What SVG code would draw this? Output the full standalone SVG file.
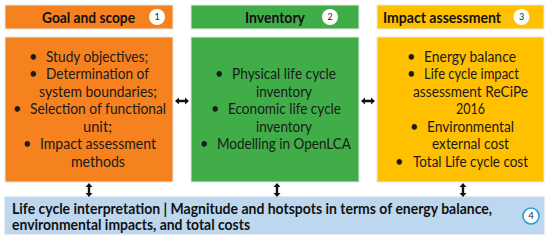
<svg xmlns="http://www.w3.org/2000/svg" width="550" height="240" viewBox="0 0 550 240">
<defs>
<style>
.hd{font-family:Lato,"Liberation Sans",sans-serif;font-weight:bold;font-size:15px;fill:#111}
.bd{font-family:Lato,"Liberation Sans",sans-serif;font-size:14.5px;fill:#1a1a1a}
.num{font-family:Lato,"Liberation Sans",sans-serif;font-size:9px;fill:#222;text-anchor:middle}
.c{fill:#fff}
.or{fill:#F5821F;stroke:#e8e8e8;stroke-width:1}
.gr{fill:#41AD49;stroke:#e8e8e8;stroke-width:1}
.ye{fill:#FFC000;stroke:#e8e8e8;stroke-width:1}
.bl{fill:#BDD7EE;stroke:#cfd8e0;stroke-width:1}
.ar{fill:#111}
</style>
</defs>
<rect width="550" height="240" fill="#fff"/>
<g id="goal-header">
<rect class="or" x="5" y="5" width="168" height="24"/>
<text class="hd" x="42" y="22.5" textLength="93" lengthAdjust="spacingAndGlyphs">Goal and scope</text>
<circle class="c" cx="157" cy="17" r="8"/>
<text class="num" x="157" y="20.2">1</text>
</g>
<g id="inventory-header">
<rect class="gr" x="191" y="5" width="168" height="24"/>
<text class="hd" x="245" y="22.5" textLength="60" lengthAdjust="spacingAndGlyphs">Inventory</text>
<circle class="c" cx="330" cy="17" r="8"/>
<text class="num" x="330" y="20.2">2</text>
</g>
<g id="impact-header">
<rect class="ye" x="377" y="5" width="167" height="24"/>
<text class="hd" x="383" y="22.5" textLength="118" lengthAdjust="spacingAndGlyphs">Impact assessment</text>
<circle class="c" cx="521.5" cy="17" r="8"/>
<text class="num" x="521.5" y="20.2">3</text>
</g>
<g id="goal-body">
<rect class="or" x="5" y="37" width="168" height="145"/>
<text class="bd" x="29" y="61.5">•</text><text class="bd" x="46" y="61.5" textLength="102" lengthAdjust="spacingAndGlyphs">Study objectives;</text>
<text class="bd" x="29" y="78.5">•</text><text class="bd" x="46" y="78.5" textLength="103" lengthAdjust="spacingAndGlyphs">Determination of</text>
<text class="bd" x="39" y="96.5" textLength="118" lengthAdjust="spacingAndGlyphs">system boundaries;</text>
<text class="bd" x="13" y="114">•</text><text class="bd" x="30" y="114" textLength="136" lengthAdjust="spacingAndGlyphs">Selection of functional</text>
<text class="bd" x="83" y="131.5" textLength="29" lengthAdjust="spacingAndGlyphs">unit;</text>
<text class="bd" x="23" y="149">•</text><text class="bd" x="40" y="149" textLength="116" lengthAdjust="spacingAndGlyphs">Impact assessment</text>
<text class="bd" x="71" y="167" textLength="54" lengthAdjust="spacingAndGlyphs">methods</text>
</g>
<g id="inventory-body">
<rect class="gr" x="191" y="37" width="168" height="145"/>
<text class="bd" x="215" y="78.5">•</text><text class="bd" x="232" y="78.5" textLength="104" lengthAdjust="spacingAndGlyphs">Physical life cycle</text>
<text class="bd" x="256" y="96.5" textLength="56" lengthAdjust="spacingAndGlyphs">inventory</text>
<text class="bd" x="211" y="114">•</text><text class="bd" x="228" y="114" textLength="113" lengthAdjust="spacingAndGlyphs">Economic life cycle</text>
<text class="bd" x="256" y="131.5" textLength="56" lengthAdjust="spacingAndGlyphs">inventory</text>
<text class="bd" x="200" y="149">•</text><text class="bd" x="217" y="149" textLength="134" lengthAdjust="spacingAndGlyphs">Modelling in OpenLCA</text>
</g>
<g id="impact-body">
<rect class="ye" x="377" y="37" width="167" height="145"/>
<text class="bd" x="407" y="61.5">•</text><text class="bd" x="424" y="61.5" textLength="92" lengthAdjust="spacingAndGlyphs">Energy balance</text>
<text class="bd" x="407" y="78.5">•</text><text class="bd" x="424" y="78.5" textLength="95" lengthAdjust="spacingAndGlyphs">Life cycle impact</text>
<text class="bd" x="413" y="96.5" textLength="115" lengthAdjust="spacingAndGlyphs">assessment ReCiPe</text>
<text class="bd" x="456" y="114" textLength="29" lengthAdjust="spacingAndGlyphs">2016</text>
<text class="bd" x="410" y="131.5">•</text><text class="bd" x="427" y="131.5" textLength="87" lengthAdjust="spacingAndGlyphs">Environmental</text>
<text class="bd" x="432" y="149" textLength="77" lengthAdjust="spacingAndGlyphs">external cost</text>
<text class="bd" x="395" y="167">•</text><text class="bd" x="413" y="167" textLength="115" lengthAdjust="spacingAndGlyphs">Total Life cycle cost</text>
</g>
<g id="interpretation">
<rect class="bl" x="5" y="197" width="539" height="37"/>
<text class="hd" x="12" y="213.5" textLength="480" lengthAdjust="spacingAndGlyphs">Life cycle interpretation | Magnitude and hotspots in terms of energy balance,</text>
<text class="hd" x="12" y="230" textLength="238" lengthAdjust="spacingAndGlyphs">environmental impacts, and total costs</text>
<circle cx="531" cy="216" r="8" fill="#fff" stroke="#2E9BD6" stroke-width="1.6"/>
<text class="num" x="531" y="219.2">4</text>
</g>
<g id="connectors">
<path class="ar" d="M175,101 l4,-3.5 v2.3 h6 v-2.3 l4,3.5 l-4,3.5 v-2.3 h-6 v2.3 z"/>
<path class="ar" d="M361,101 l4,-3.5 v2.3 h6 v-2.3 l4,3.5 l-4,3.5 v-2.3 h-6 v2.3 z"/>
<path class="ar" d="M89,183 l3.5,4 h-2.3 v6 h2.3 l-3.5,4 l-3.5,-4 h2.3 v-6 h-2.3 z"/>
<path class="ar" d="M277,183 l3.5,4 h-2.3 v6 h2.3 l-3.5,4 l-3.5,-4 h2.3 v-6 h-2.3 z"/>
<path class="ar" d="M463,183 l3.5,4 h-2.3 v6 h2.3 l-3.5,4 l-3.5,-4 h2.3 v-6 h-2.3 z"/>
</g>
</svg>
